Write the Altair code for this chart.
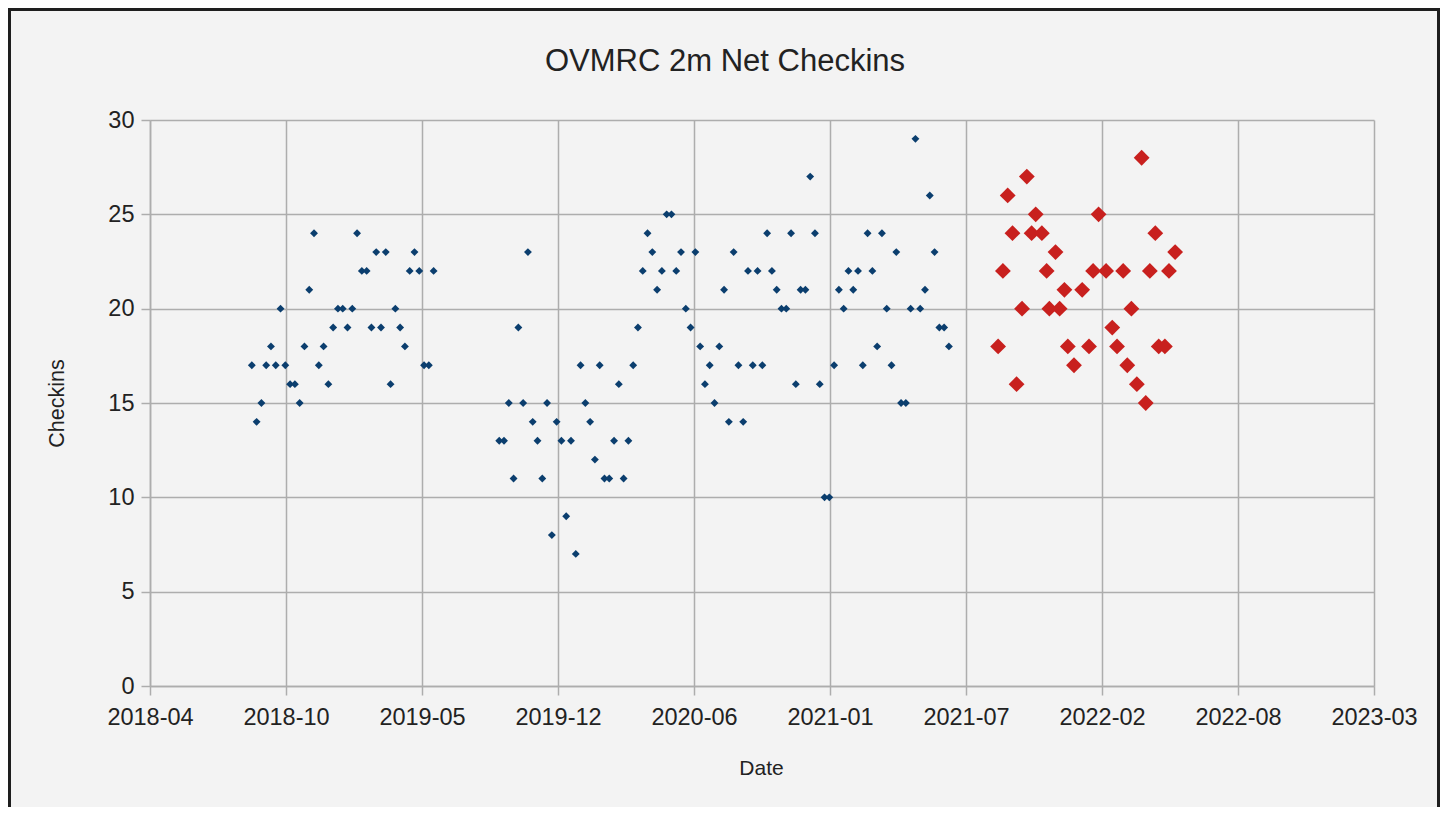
import altair as alt
import pandas as pd

# ---- data ----
# earlier seasons: one check-in count per weekly net (blue)
season1_start = "2018-09-11"
season1_checkins = [17, 14, 15, 17, 18, 17, 20, 17, 16, 16,
                    15, 18, 21, 24, 17, 18, 16, 19, 20, 20,
                    19, 20, 24, 22, 22, 19, 23, 19, 23, 16,
                    20, 19, 18, 22, 23, 22, 17, 17, 22]

season2_start = "2019-09-08"
season2_checkins = [13, 13, 15, 11, 19, 15, 23, 14, 13, 11,
                    15, 8, 14, 13, 9, 13, 7, 17, 15, 14,
                    12, 17, 11, 11, 13, 16, 11, 13, 17, 19,
                    22, 24, 23, 21, 22, 25, 25, 22, 23, 20,
                    19, 23, 18, 16, 17, 15, 18, 21, 14, 23,
                    17, 14, 22, 17, 22, 17, 24, 22, 21, 20,
                    20, 24, 16, 21, 21, 27, 24, 16, 10, 10,
                    17, 21, 20, 22, 21, 22, 17, 24, 22, 18,
                    24, 20, 17, 23, 15, 15, 20, 29, 20, 21,
                    26, 23, 19, 19, 18]

# latest season (red)
recent_dates = ["2021-09-07", "2021-09-14", "2021-09-21", "2021-09-28", "2021-10-04",
                "2021-10-12", "2021-10-19", "2021-10-26", "2021-11-01", "2021-11-10",
                "2021-11-17", "2021-11-21", "2021-11-30", "2021-12-06", "2021-12-13",
                "2021-12-18", "2021-12-27", "2022-01-08", "2022-01-18", "2022-01-24",
                "2022-02-01", "2022-02-12", "2022-02-21", "2022-02-28", "2022-03-09",
                "2022-03-15", "2022-03-21", "2022-03-29", "2022-04-05", "2022-04-11",
                "2022-04-17", "2022-04-25", "2022-04-30", "2022-05-09", "2022-05-15",
                "2022-05-24"]
recent_checkins = [18, 22, 26, 24, 16, 20, 27, 24, 25, 24,
                   22, 20, 23, 20, 21, 18, 17, 21, 18, 22,
                   25, 22, 19, 18, 22, 17, 20, 16, 28, 15,
                   22, 24, 18, 18, 22, 23]

x_tick_dates = ["2018-04-15", "2018-10-31", "2019-05-18", "2019-12-03", "2020-06-19",
                "2021-01-04", "2021-07-22", "2022-02-06", "2022-08-24", "2023-03-11"]
y_ticks = [0, 5, 10, 15, 20, 25, 30]

chart_title = "OVMRC 2m Net Checkins"

# ---- tables ----
older = pd.concat([
    pd.DataFrame({"date": pd.date_range(season1_start, periods=len(season1_checkins), freq="7D"),
                  "checkins": season1_checkins}),
    pd.DataFrame({"date": pd.date_range(season2_start, periods=len(season2_checkins), freq="7D"),
                  "checkins": season2_checkins}),
], ignore_index=True)
recent = pd.DataFrame({"date": pd.to_datetime(recent_dates), "checkins": recent_checkins})


def dt(s):
    y, m, d = (int(p) for p in s.split("-"))
    return alt.DateTime(year=y, month=m, date=d)


tick_vals = [dt(s) for s in x_tick_dates]

TEXT = "#222222"
GRID = "#adadad"

x_enc = alt.X(
    "date:T",
    scale=alt.Scale(domain=[tick_vals[0], tick_vals[-1]]),
    axis=alt.Axis(
        values=tick_vals, format="%Y-%m", title="Date",
        labelFontSize=23.5, labelColor=TEXT, labelPadding=10,
        labelFlush=False, labelOverlap=False,
        tickSize=9, tickColor=GRID, tickWidth=1.5,
        domainColor=GRID, domainWidth=1.5,
        grid=True, gridColor=GRID, gridWidth=1.5,
        titleFontSize=21, titleFontWeight="normal", titleColor=TEXT,
        titleX=611, titleY=82, titleBaseline="middle", titleAlign="center",
    ),
)
y_enc = alt.Y(
    "checkins:Q",
    scale=alt.Scale(domain=[0, 30], nice=False),
    axis=alt.Axis(
        values=y_ticks, title="Checkins",
        labelFontSize=23.5, labelColor=TEXT, labelPadding=7,
        tickSize=9, tickColor=GRID, tickWidth=1.5,
        domainColor=GRID, domainWidth=1.5,
        grid=True, gridColor=GRID, gridWidth=1.5,
        titleFontSize=21.5, titleFontWeight="normal", titleColor=TEXT,
        titleX=-93, titleY=283, titleAngle=270,
        titleBaseline="middle", titleAlign="center",
    ),
)

blue = alt.Chart(older).mark_point(
    shape="diamond", filled=True, size=62, color="#0b3e6e", opacity=1
).encode(x=x_enc, y=y_enc)

red = alt.Chart(recent).mark_point(
    shape="diamond", filled=True, size=250, color="#c8201e", opacity=1
).encode(x="date:T", y="checkins:Q")

one_row = pd.DataFrame({"k": [0]})

title_text = alt.Chart(one_row).mark_text(
    text=chart_title, fontSize=31, color=TEXT, align="center", baseline="middle",
).encode(x=alt.value(575), y=alt.value(-58))

frame = alt.Chart(one_row).mark_rect(
    fillOpacity=0, stroke="#1e1e1e", strokeWidth=3
).encode(
    x=alt.value(-140.5), x2=alt.value(1288.5),
    y=alt.value(-110.5), y2=alt.value(720),
)

chart = alt.layer(blue, red, title_text, frame).properties(
    width=1224,
    height=566,
    padding={"left": 142, "top": 112, "right": 66, "bottom": 121},
    autosize=alt.AutoSizeParams(type="none"),
    background="#f3f3f3",
).configure(
    font="Liberation Sans",
).configure_view(strokeWidth=0)

chart.save("out.html", embed_options={"renderer": "svg", "actions": False})
